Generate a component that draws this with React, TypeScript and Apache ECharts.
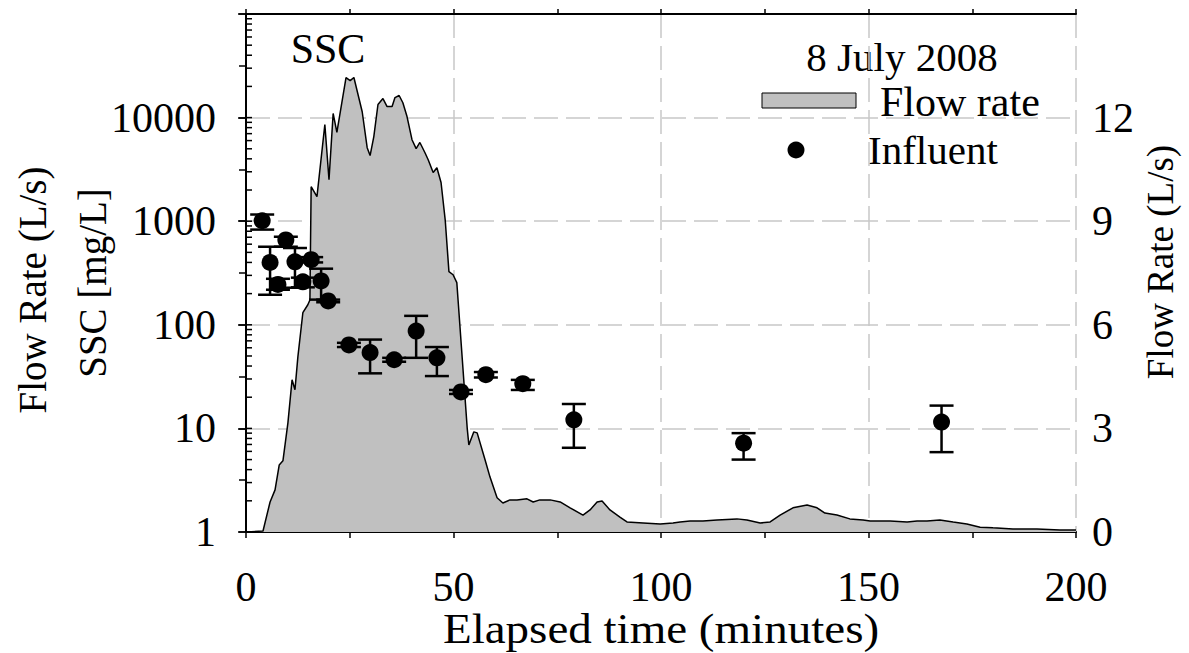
import React, { useEffect, useRef } from "react";
import * as echarts from "echarts";

// Flow rate (L/s) vs elapsed time (minutes) – right axis
const flowTime = [0, 4.1, 5.8, 7.0, 8.0, 8.9, 10.1, 11.1, 11.8, 12.5, 13.7, 14.9, 15.4, 15.7, 17.1, 19.0, 20.0, 21.0, 21.9, 24.1, 25.1, 26.0, 28.0, 29.2, 29.9, 30.8, 31.8, 33.0, 34.0, 35.2, 35.9, 36.9, 37.8, 38.8, 40.0, 41.0, 41.9, 43.1, 43.9, 45.1, 46.0, 47.0, 48.0, 48.9, 49.9, 50.8, 51.1, 53.3, 53.7, 54.9, 55.7, 57.6, 58.8, 60.5, 61.9, 63.6, 65.3, 67.7, 69.2, 70.8, 73.3, 75.7, 78.1, 81.2, 82.9, 84.6, 85.8, 87.7, 90.1, 91.8, 95.7, 99.8, 102.9, 104.6, 107.0, 110.1, 113.5, 118.3, 120.7, 123.9, 126.3, 128.7, 131.8, 135.2, 137.6, 139.5, 142.4, 145.5, 148.7, 150.4, 155.2, 159.3, 161.7, 164.1, 167.2, 170.4, 173.7, 176.9, 180.0, 184.8, 190.6, 196.1, 200];
const flowRate = [0, 0.03, 0.87, 1.22, 1.94, 2.06, 3.16, 4.41, 4.12, 5.07, 6.35, 6.58, 6.72, 10.0, 9.71, 11.8, 10.2, 12.12, 11.57, 13.16, 13.07, 13.16, 12.17, 11.13, 10.9, 11.45, 12.38, 12.55, 12.32, 12.32, 12.58, 12.64, 12.43, 12.03, 11.36, 11.1, 11.28, 10.99, 10.78, 10.41, 10.55, 10.12, 9.04, 7.54, 7.45, 7.22, 6.72, 3.01, 2.52, 2.9, 2.87, 2.09, 1.59, 0.99, 0.84, 0.93, 0.93, 0.96, 0.87, 0.93, 0.93, 0.87, 0.7, 0.49, 0.64, 0.87, 0.9, 0.64, 0.43, 0.29, 0.26, 0.23, 0.26, 0.29, 0.32, 0.32, 0.35, 0.38, 0.35, 0.26, 0.29, 0.49, 0.7, 0.78, 0.7, 0.55, 0.49, 0.38, 0.35, 0.32, 0.32, 0.29, 0.32, 0.32, 0.35, 0.29, 0.23, 0.14, 0.12, 0.09, 0.09, 0.06, 0.06];

// Influent SSC (mg/L) – left log axis, with error bars
const influentTime = [3.9, 5.8, 7.7, 9.6, 11.8, 13.7, 15.7, 18.1, 19.8, 24.8, 29.9, 35.7, 41.0, 46.0, 51.8, 57.8, 66.7, 79.0, 119.9, 167.6];
const influentSSC = [1010, 400, 245, 660, 405, 260, 425, 265, 170, 64, 54, 46, 87, 48, 22.5, 33, 27, 12.1, 7.2, 11.5];
const influentLow = [830, 195, 218, 567, 228, 230, 400, 175, 165, 61, 34, 44, 48, 32, 21.5, 31, 23.5, 6.5, 5.0, 5.9];
const influentHigh = [1160, 567, 278, 708, 551, 285, 450, 348, 175, 67, 72, 48, 122, 61, 23.5, 35, 29.4, 17.2, 9.0, 16.6];

const xTickLabels = ["0", "50", "100", "150", "200"];
const leftTickLabels = ["1", "10", "100", "1000", "10000"];
const rightTickLabels = ["0", "3", "6", "9", "12"];

const FONT = '"Liberation Serif", "Times New Roman", serif';

export default function App() {
  const ref = useRef<HTMLDivElement>(null);

  useEffect(() => {
    if (!ref.current) return;
    const chart = echarts.init(ref.current, undefined, { renderer: "svg" });

    const logMinorTicks: number[] = [];
    for (let d = 1; d < 100000; d *= 10) {
      for (let m = 1; m <= 9; m++) logMinorTicks.push(d * m);
    }

    const fs = 42;
    const gridLine = { show: true, lineStyle: { color: "#c8c8c8", type: [24, 8], width: 1.5 } };
    const axisLine = { show: true, lineStyle: { color: "#000", width: 2 } };

    chart.setOption({
      animation: false,
      backgroundColor: "#fff",
      textStyle: { fontFamily: FONT, color: "#000" },
      grid: { left: 246, right: 113, top: 14, bottom: 121 },
      xAxis: [
        {
          type: "value",
          position: "bottom",
          min: 0,
          max: 200,
          interval: 50,
          axisLine,
          axisTick: { show: true, inside: false, length: 6, lineStyle: { color: "#000", width: 1.5 } },
          minorTick: { show: true, splitNumber: 2, length: 6, lineStyle: { color: "#000", width: 1.5 } },
          axisLabel: {
            fontSize: fs,
            fontFamily: FONT,
            color: "#000",
            margin: 34,
            formatter: (v: number) => xTickLabels[Math.round(v / 50)] ?? "",
          },
          splitLine: gridLine,
        },
        {
          type: "value",
          position: "top",
          min: 0,
          max: 200,
          interval: 50,
          axisLine,
          axisTick: { show: true, inside: false, length: 5, lineStyle: { color: "#000", width: 1.5 } },
          minorTick: { show: true, splitNumber: 2, length: 5, lineStyle: { color: "#000", width: 1.5 } },
          axisLabel: { show: false },
          splitLine: { show: false },
        },
      ],
      yAxis: [
        {
          type: "log",
          logBase: 10,
          min: 1,
          max: 100000,
          position: "left",
          axisLine,
          axisTick: { show: true, inside: false, length: 8, lineStyle: { color: "#000", width: 1.5 } },
          axisLabel: {
            fontSize: fs,
            fontFamily: FONT,
            color: "#000",
            margin: 30,
            formatter: (v: number) => leftTickLabels[Math.round(Math.log10(v))] ?? "",
          },
          splitLine: gridLine,
        },
        {
          type: "value",
          min: 0,
          max: 15,
          interval: 1.5,
          position: "right",
          axisLine,
          axisTick: { show: true, inside: true, length: 7, lineStyle: { color: "#000", width: 1.5 } },
          axisLabel: {
            fontSize: fs,
            fontFamily: FONT,
            color: "#000",
            margin: 16,
            formatter: (v: number) => {
              const k = Math.round(v / 3);
              return Math.abs(v - k * 3) < 1e-6 ? rightTickLabels[k] ?? "" : "";
            },
          },
          splitLine: { show: false },
        },
      ],
      series: [
        {
          name: "Flow rate",
          type: "line",
          xAxisIndex: 0,
          yAxisIndex: 1,
          data: flowTime.map((t, i) => [t, flowRate[i]]),
          showSymbol: false,
          symbol: "none",
          lineStyle: { color: "#000", width: 1.5 },
          areaStyle: { color: "#c0c0c0", opacity: 1 },
          z: 2,
        },
        {
          name: "Influent error",
          type: "custom",
          xAxisIndex: 0,
          yAxisIndex: 0,
          data: influentTime.map((t, i) => [t, influentLow[i], influentHigh[i]]),
          encode: { x: 0, y: [1, 2] },
          renderItem: (params: any, api: any) => {
            const t = api.value(0);
            const lo = api.coord([t, api.value(1)]);
            const hi = api.coord([t, api.value(2)]);
            const hw = 12;
            const st = { stroke: "#000", lineWidth: 2.5 };
            return {
              type: "group",
              children: [
                { type: "line", shape: { x1: lo[0], y1: lo[1], x2: hi[0], y2: hi[1] }, style: st },
                { type: "line", shape: { x1: lo[0] - hw, y1: lo[1], x2: lo[0] + hw, y2: lo[1] }, style: st },
                { type: "line", shape: { x1: hi[0] - hw, y1: hi[1], x2: hi[0] + hw, y2: hi[1] }, style: st },
              ],
            };
          },
          z: 4,
        },
        {
          name: "Influent",
          type: "scatter",
          xAxisIndex: 0,
          yAxisIndex: 0,
          data: influentTime.map((t, i) => [t, influentSSC[i]]),
          symbol: "circle",
          symbolSize: 17,
          itemStyle: { color: "#000", opacity: 1 },
          z: 5,
        },
        {
          name: "log ticks",
          type: "custom",
          xAxisIndex: 0,
          yAxisIndex: 0,
          silent: true,
          data: logMinorTicks.map((v) => [0, v]),
          renderItem: (params: any, api: any) => {
            const p = api.coord([0, api.value(1)]);
            return {
              type: "line",
              shape: { x1: p[0], y1: p[1], x2: p[0] + 6, y2: p[1] },
              style: { stroke: "#000", lineWidth: 1.5 },
            };
          },
          z: 6,
        },
      ],
      graphic: [
        { type: "text", x: 328, y: 49, style: { text: "SSC", font: `42px ${FONT}`, fill: "#000", align: "center", verticalAlign: "middle" } },
        { type: "text", x: 902, y: 57, style: { text: "8 July 2008", font: `41px ${FONT}`, fill: "#000", align: "center", verticalAlign: "middle" } },
        { type: "rect", shape: { x: 762, y: 93, width: 94, height: 15 }, style: { fill: "#c0c0c0", stroke: "#000", lineWidth: 1 } },
        { type: "text", x: 880, y: 102, style: { text: "Flow rate", font: `42px ${FONT}`, fill: "#000", align: "left", verticalAlign: "middle" } },
        { type: "circle", shape: { cx: 796, cy: 150, r: 8.5 }, style: { fill: "#000" } },
        { type: "text", x: 868, y: 150, style: { text: "Influent", font: `41px ${FONT}`, fill: "#000", align: "left", verticalAlign: "middle" } },
        { type: "text", x: 661, y: 629, scaleX: 1.12, style: { text: "Elapsed time (minutes)", font: `42px ${FONT}`, fill: "#000", align: "center", verticalAlign: "middle" } },
        { type: "text", x: 92, y: 283, rotation: Math.PI / 2, style: { text: "SSC [mg/L]", font: `39px ${FONT}`, fill: "#000", align: "center", verticalAlign: "middle" } },
        { type: "text", x: 32, y: 290, rotation: Math.PI / 2, style: { text: "Flow Rate (L/s)", font: `39px ${FONT}`, fill: "#000", align: "center", verticalAlign: "middle" } },
        { type: "text", x: 1160, y: 262, rotation: Math.PI / 2, style: { text: "Flow Rate (L/s)", font: `37px ${FONT}`, fill: "#000", align: "center", verticalAlign: "middle" } },
      ],
    });

    return () => chart.dispose();
  }, []);

  return (
    <div
      ref={ref}
      style={{ position: "fixed", left: 0, top: 0, width: 1189, height: 653, background: "#fff" }}
    />
  );
}
